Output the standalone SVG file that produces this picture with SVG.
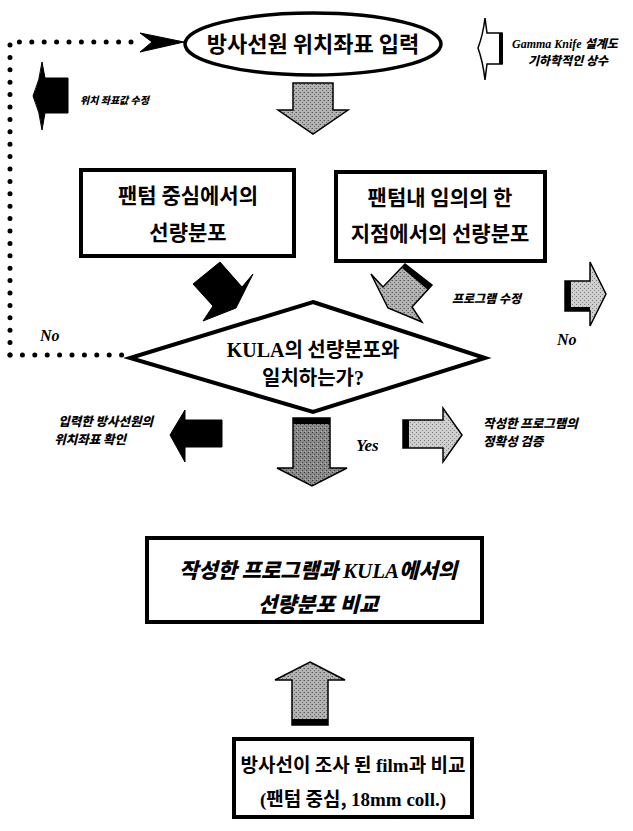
<svg xmlns="http://www.w3.org/2000/svg" width="633" height="831" viewBox="0 0 633 831">
<defs>
<pattern id="ht" width="4" height="4" patternUnits="userSpaceOnUse">
<rect width="4" height="4" fill="#b4b4b4"/>
<rect x="0" y="0" width="1" height="1" fill="#555"/>
<rect x="2" y="2" width="1" height="1" fill="#666"/>
<rect x="3" y="0" width="1" height="1" fill="#888"/>
</pattern>
<pattern id="htd" width="4" height="4" patternUnits="userSpaceOnUse">
<rect width="4" height="4" fill="#8a8a8a"/>
<rect x="0" y="0" width="1" height="1" fill="#333"/>
<rect x="2" y="2" width="1" height="1" fill="#444"/>
<rect x="1" y="3" width="1" height="1" fill="#bbb"/>
</pattern>
<pattern id="htl" width="4" height="4" patternUnits="userSpaceOnUse">
<rect width="4" height="4" fill="#cfcfcf"/>
<rect x="0" y="0" width="1" height="1" fill="#777"/>
<rect x="2" y="2" width="1" height="1" fill="#888"/>
</pattern>
</defs>
<style>
.box{fill:#fff;stroke:#000;stroke-width:4}
.ko{font-family:"Noto Sans CJK KR","Noto Sans",sans-serif;font-weight:700;fill:#000}
.kb{font-family:"Noto Sans CJK KR","Noto Sans",sans-serif;font-weight:900;font-style:italic;fill:#000}
.se{font-family:"Liberation Serif",serif;font-weight:700}
.sei{font-family:"Liberation Serif",serif;font-weight:700;font-style:italic}
.dot{fill:none;stroke:#000;stroke-width:5;stroke-linecap:round;stroke-dasharray:0 12.4}
.blk{fill:#000;stroke:#000;stroke-width:1}
.gr{stroke:#000;stroke-width:1.5}
</style>
<rect width="633" height="831" fill="#fff"/>

<g id="connectors">
<path class="dot" d="M10 355 V42 H136"/>
<path class="dot" d="M10 355 H126"/>
<polygon class="blk" points="140,33 184,42 140,52 152,42"/>
<path class="blk" d="M33 96 Q40 80 42 62 L45 78 H68 V113 H45 L42 130 Q40 112 33 96 Z"/>
<path fill="#fff" stroke="#000" stroke-width="1.5" d="M478 48 Q483 35 485 18 L487 33 H502 V64 H487 L485 80 Q483 62 478 48 Z"/>
<rect x="499" y="33" width="4" height="31" fill="#000"/>
<polygon class="gr" fill="url(#ht)" points="293,83 333,83 333,110 348,110 313,134 278,110 293,110"/>
<polygon class="blk" points="220,262 242,287 253,274 236,308 203,321 213,306 193,284"/>
<polygon class="gr" fill="url(#ht)" points="405,264 383,287 371,274 388,308 422,322 412,307 432,285"/>
<polygon fill="#000" points="405,264 432,285 428,290 402,268"/>
<polygon class="gr" fill="url(#htl)" points="565,281 590,281 590,262 606,294 590,326 590,311 565,311"/>
<rect x="565" y="281" width="6" height="30" fill="#000"/>
<rect x="565" y="307" width="25" height="4" fill="#000"/>
<polygon class="blk" points="170,435 185,410 185,420 222,420 222,447 185,447 185,462"/>
<polygon class="gr" fill="url(#htd)" points="293,418 330,418 330,468 347,468 312,486 277,468 293,468"/>
<rect x="293" y="418" width="37" height="6" fill="#000"/>
<polygon class="gr" fill="url(#htl)" points="403,420 443,420 443,408 462,435 443,462 443,448 403,448"/>
<rect x="403" y="420" width="6" height="28" fill="#000"/>
<polygon class="gr" fill="url(#ht)" points="310,662 345,680 328,680 328,725 292,725 292,680 275,680"/>
<rect x="292" y="719" width="36" height="6" fill="#000"/>
</g>

<g id="node-input">
<ellipse cx="313" cy="44" rx="128" ry="31" fill="#fff" stroke="#000" stroke-width="3.5"/>
<text class="ko" x="313" y="52" font-size="22" text-anchor="middle">방사선원 위치좌표 입력</text>
</g>

<g id="note-gamma">
<text x="512" y="48" font-size="12"><tspan class="sei">Gamma Knife </tspan><tspan class="kb">설계도</tspan></text>
<text class="kb" x="568" y="65" font-size="12" text-anchor="middle">기하학적인 상수</text>
</g>

<g id="note-coord-fix">
<text class="kb" x="80" y="104" font-size="10">위치 좌표값 수정</text>
</g>

<g id="node-center">
<rect class="box" x="81" y="170" width="213" height="86"/>
<text class="ko" x="188" y="203" font-size="21" text-anchor="middle">팬텀 중심에서의</text>
<text class="ko" x="188" y="240" font-size="21" text-anchor="middle">선량분포</text>
</g>

<g id="node-arbitrary">
<rect class="box" x="336" y="172" width="209" height="89"/>
<text class="ko" x="440" y="205" font-size="21" text-anchor="middle">팬텀내 임의의 한</text>
<text class="ko" x="440" y="241" font-size="21" text-anchor="middle">지점에서의 선량분포</text>
</g>

<g id="note-program-fix">
<text class="kb" x="452" y="303" font-size="12">프로그램 수정</text>
</g>

<g id="decision">
<polygon points="313,302 485,358 313,412 130,358" fill="#fff" stroke="#000" stroke-width="4" stroke-linejoin="miter"/>
<text x="313" y="357" font-size="20" text-anchor="middle"><tspan class="se">KULA</tspan><tspan class="ko">의 선량분포와</tspan></text>
<text class="ko" x="313" y="385" font-size="20" text-anchor="middle">일치하는가<tspan class="se">?</tspan></text>
</g>

<g id="labels">
<text class="sei" x="40" y="341" font-size="16">No</text>
<text class="sei" x="557" y="345" font-size="16">No</text>
<text class="sei" x="356" y="451" font-size="17">Yes</text>
</g>

<g id="note-check-coord">
<text class="kb" x="153" y="426" font-size="12.5" text-anchor="end">입력한 방사선원의</text>
<text class="kb" x="126" y="444" font-size="12.5" text-anchor="end">위치좌표 확인</text>
</g>

<g id="note-verify">
<text class="kb" x="483" y="428" font-size="12.5">작성한 프로그램의</text>
<text class="kb" x="483" y="446" font-size="12.5">정확성 검증</text>
</g>

<g id="node-compare">
<rect class="box" x="147" y="538" width="335" height="84"/>
<text x="318" y="578" font-size="21" text-anchor="middle"><tspan class="kb">작성한 프로그램과 </tspan><tspan class="sei">KULA</tspan><tspan class="kb">에서의</tspan></text>
<text class="kb" x="318" y="612" font-size="21" text-anchor="middle">선량분포 비교</text>
</g>

<g id="node-film">
<rect class="box" x="234" y="739" width="238" height="78"/>
<text x="353" y="772" font-size="19" text-anchor="middle"><tspan class="ko">방사선이 조사 된 </tspan><tspan class="se">film</tspan><tspan class="ko">과 비교</tspan></text>
<text x="353" y="806" font-size="19" text-anchor="middle"><tspan class="se">(</tspan><tspan class="ko">팬텀 중심, </tspan><tspan class="se">18mm coll.)</tspan></text>
</g>
</svg>
